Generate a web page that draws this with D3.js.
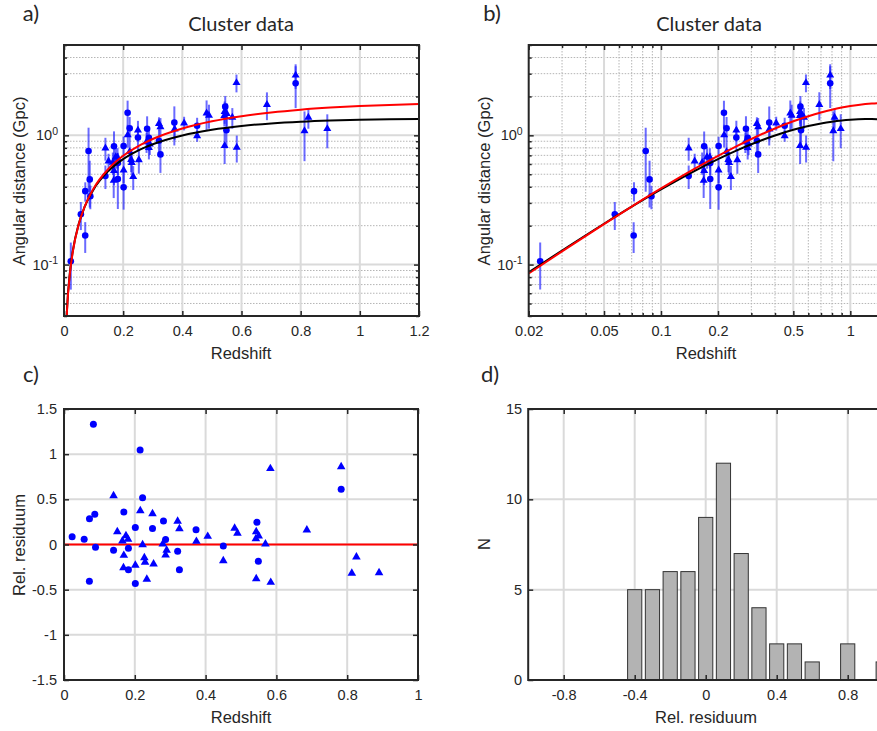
<!DOCTYPE html>
<html><head><meta charset="utf-8">
<script src="https://cdn.jsdelivr.net/npm/d3@7"></script>
<style>body{margin:0;background:#fff}svg{display:block}</style>
</head><body><svg id="chart" width="877" height="731"></svg>
<script>
// ---------- data ----------
const curveZ = [0.005,0.01,0.02,0.03,0.05,0.07,0.1,0.15,0.2,0.25,0.3,0.4,0.5,0.6,0.7,0.8,0.9,1.0,1.1,1.2,1.3,1.4,1.5];
const redCurve = [0.0217,0.0431,0.0853,0.1264,0.2056,0.2812,0.3880,0.5500,0.6942,0.8226,0.9371,1.1304,1.2843,1.4065,1.5033,1.5796,1.6390,1.6848,1.7194,1.7448,1.7625,1.7740,1.7804];
const blackCurve = [0.0224,0.0443,0.0871,0.1285,0.2070,0.2804,0.3816,0.5294,0.6549,0.7618,0.8530,0.9977,1.1035,1.1807,1.2365,1.2761,1.3033,1.3210,1.3313,1.3358,1.3358,1.3323,1.3261];

const circZ = [0.023,0.057,0.0717,0.072,0.083,0.087,0.089,0.14,0.169,0.182,0.182,0.2015,0.2015,0.215,0.222,0.25,0.281,0.287,0.321,0.326,0.373,0.45,0.545,0.549,0.783];
const circD = [0.106,0.245,0.168,0.370,0.756,0.456,0.338,0.484,0.823,0.612,0.459,0.396,0.827,1.495,1.135,0.962,1.123,0.955,0.907,0.712,1.255,1.187,1.667,1.094,2.524];
const circErr = [0.042,0.06,0.045,0.063,0.39,0.18,0.07,0.1,0.25,0.12,0.19,0.13,0.15,0.36,0.25,0.2,0.28,0.2,0.18,0.2,0.42,0.18,0.35,0.3,0.9];
const circRes = [0.087,0.057,-0.408,0.286,1.33,0.334,-0.031,-0.064,0.36,-0.042,-0.28,-0.432,0.188,1.046,0.518,0.177,0.26,0.054,-0.074,-0.279,0.164,-0.017,0.245,-0.186,0.611];

const triZ = [0.14,0.1506,0.165,0.175,0.181,0.169,0.168,0.2015,0.2155,0.222,0.227,0.229,0.234,0.25,0.253,0.279,0.287,0.29,0.321,0.326,0.374,0.406,0.45,0.482,0.49,0.543,0.542,0.55,0.569,0.543,0.583,0.584,0.686,0.783,0.826,0.813,0.89];
const triD = [0.797,0.630,0.616,0.682,0.676,0.532,0.447,0.537,1.005,0.746,0.649,0.614,0.478,1.094,0.645,0.891,0.801,0.854,1.229,1.160,1.118,1.242,0.991,1.482,1.426,1.527,1.421,1.472,1.375,0.830,2.550,0.806,1.730,2.915,1.375,1.081,1.124];
const triErr = [0.16,0.09,0.12,0.13,0.12,0.12,0.12,0.11,0.2,0.14,0.13,0.12,0.1,0.2,0.14,0.16,0.15,0.15,0.15,0.2,0.2,0.15,0.1,0.38,0.3,0.3,0.25,0.3,0.25,0.23,0.4,0.19,0.42,0.63,0.25,0.45,0.33];
const triRes = [0.54,0.142,0.039,0.097,0.057,-0.12,-0.257,-0.23,0.374,-0.002,-0.146,-0.197,-0.385,0.341,-0.216,0.006,-0.116,-0.064,0.257,0.175,0.035,0.09,-0.179,0.179,0.124,0.142,0.064,0.094,0.005,-0.379,0.84,-0.419,0.161,0.861,-0.138,-0.319,-0.312];

const histCenters = [-0.4,-0.3,-0.2,-0.1,0,0.1,0.2,0.3,0.4,0.5,0.6,0.7,0.8,0.9,1.0,1.1,1.2,1.3];
const histCounts = [5,5,6,6,9,12,7,4,2,2,1,0,2,0,1,0,0,1];

const xTicksA = [0,0.2,0.4,0.6,0.8,1,1.2];
const xTicksB = [0.02,0.05,0.1,0.2,0.5,1];
const yTicksLog = [0.1,1];
const xTicksC = [0,0.2,0.4,0.6,0.8,1];
const yTicksC = [-1.5,-1,-0.5,0,0.5,1,1.5];
const xTicksD = [-0.8,-0.4,0,0.4,0.8];
const yTicksD = [0,5,10,15];

// ---------- styling ----------
const FRAME = "#262626", GMAJ = "#dadada", GMIN = "#b5b5b5";
const TF = "'Liberation Sans', Arial, sans-serif";
const TT = "Lato, 'Open Sans', sans-serif";
const svg = d3.select("#chart");
const fmt = d => d3.format("~g")(d).replace("\u2212", "-");

const circles = circZ.map((z,i)=>({z, d:circD[i], e:circErr[i], r:circRes[i]}));
const tris = triZ.map((z,i)=>({z, d:triD[i], e:triErr[i], r:triRes[i]}));
const curveRed = curveZ.map((z,i)=>({z, d:redCurve[i]}));
const curveBlack = curveZ.map((z,i)=>({z, d:blackCurve[i]}));

const logMinorY = [0.04,0.05,0.06,0.07,0.08,0.09,0.2,0.3,0.4,0.5,0.6,0.7,0.8,0.9,2,3,4,5];
const logMinorXB = [0.03,0.04,0.06,0.07,0.08,0.09,0.3,0.4,0.6,0.7,0.8,0.9];

let clipId = 0;
function makePanel(x, y) {
  const [l, r] = x.range(), [b, t] = y.range();
  const g = svg.append("g");
  const id = "clip" + (clipId++);
  g.append("clipPath").attr("id", id).append("rect").attr("x", l).attr("y", t).attr("width", r - l).attr("height", b - t);
  return {g, l, r, t, b, clip: `url(#${id})`};
}
function grid(P, x, y, xs, ys, color, width, dash) {
  const gg = P.g.append("g").attr("stroke", color).attr("stroke-width", width).attr("clip-path", P.clip);
  if (dash) gg.attr("stroke-dasharray", dash);
  gg.selectAll(".gx").data(xs).join("line").attr("x1", d=>x(d)).attr("x2", d=>x(d)).attr("y1", P.t).attr("y2", P.b);
  gg.selectAll(".gy").data(ys).join("line").attr("y1", d=>y(d)).attr("y2", d=>y(d)).attr("x1", P.l).attr("x2", P.r);
}
function styleAxis(sel) {
  sel.attr("font-family", null).attr("font-size", null);
  sel.select(".domain").remove();
  sel.selectAll(".tick line").attr("stroke", FRAME).attr("stroke-width", 1.5);
  sel.selectAll(".tick text").attr("fill", FRAME).style("font-family", TF).style("font-size", "14.5px");
}
function axes(P, x, y, xt, yt, xfmt, yfmt, xMinor, yMinor, ypad) {
  const g = P.g;
  g.append("g").attr("transform", `translate(0,${P.b})`)
    .call(d3.axisBottom(x).tickValues(xt).tickFormat(xfmt).tickSizeInner(-5).tickSizeOuter(0).tickPadding(10)).call(styleAxis);
  g.append("g").attr("transform", `translate(0,${P.t})`)
    .call(d3.axisTop(x).tickValues(xt).tickFormat("").tickSizeInner(-5).tickSizeOuter(0)).call(styleAxis);
  const la = g.append("g").attr("transform", `translate(${P.l},0)`)
    .call(d3.axisLeft(y).tickValues(yt).tickFormat(yfmt).tickSizeInner(-5).tickSizeOuter(0).tickPadding(ypad)).call(styleAxis);
  g.append("g").attr("transform", `translate(${P.r},0)`)
    .call(d3.axisRight(y).tickValues(yt).tickFormat("").tickSizeInner(-5).tickSizeOuter(0)).call(styleAxis);
  if (xMinor) {
    g.append("g").attr("transform", `translate(0,${P.b})`).call(d3.axisBottom(x).tickValues(xMinor).tickFormat("").tickSizeInner(-3).tickSizeOuter(0)).call(styleAxis);
    g.append("g").attr("transform", `translate(0,${P.t})`).call(d3.axisTop(x).tickValues(xMinor).tickFormat("").tickSizeInner(-3).tickSizeOuter(0)).call(styleAxis);
  }
  if (yMinor) {
    g.append("g").attr("transform", `translate(${P.l},0)`).call(d3.axisLeft(y).tickValues(yMinor).tickFormat("").tickSizeInner(-3).tickSizeOuter(0)).call(styleAxis);
    g.append("g").attr("transform", `translate(${P.r},0)`).call(d3.axisRight(y).tickValues(yMinor).tickFormat("").tickSizeInner(-3).tickSizeOuter(0)).call(styleAxis);
  }
  g.append("rect").attr("x", P.l).attr("y", P.t).attr("width", P.r - P.l).attr("height", P.b - P.t)
    .attr("fill", "none").attr("stroke", FRAME).attr("stroke-width", 2);
  return la;
}
function powLabels(axisSel) {
  axisSel.selectAll(".tick text").each(function(d) {
    const t = d3.select(this); const e = Math.round(Math.log10(d));
    t.text(null);
    t.append("tspan").text("10");
    t.append("tspan").attr("dy", "-0.55em").style("font-size", "10.5px").text(String(e));
  });
}
function label(text, x, y, size, font, rot) {
  const t = svg.append("text").attr("x", x).attr("y", y).attr("text-anchor", "middle")
    .attr("fill", FRAME).style("font-family", font).style("font-size", size + "px").text(text);
  if (rot) t.attr("transform", `rotate(-90,${x},${y})`);
  return t;
}
function plotData(P, x, y) {
  const g = P.g.append("g").attr("clip-path", P.clip);
  const all = circles.concat(tris);
  g.selectAll(".eb").data(all).join("line")
    .attr("x1", d=>x(d.z)).attr("x2", d=>x(d.z))
    .attr("y1", d=>y(Math.max(d.d - d.e, 0.001))).attr("y2", d=>y(d.d + d.e))
    .attr("stroke", "#1a1aff").attr("stroke-opacity", 0.65).attr("stroke-width", 2);
  const line = d3.line().x(d=>x(d.z)).y(d=>y(d.d)).curve(d3.curveMonotoneX);
  g.selectAll(".cc").data(circles).join("circle").attr("cx", d=>x(d.z)).attr("cy", d=>y(d.d)).attr("r", 3.3).attr("fill", "#0000ff");
  g.selectAll(".tt").data(tris).join("path").attr("d", d3.symbol(d3.symbolTriangle, 28))
    .attr("transform", d=>`translate(${x(d.z)},${y(d.d)})`).attr("fill", "#0000ff");
  g.append("path").datum(curveBlack).attr("d", line).attr("fill", "none").attr("stroke", "#000").attr("stroke-width", 2);
  g.append("path").datum(curveRed).attr("d", line).attr("fill", "none").attr("stroke", "#ff0000").attr("stroke-width", 2);
}

// ---------- panel a ----------
{
  const x = d3.scaleLinear().domain([0, 1.2]).range([64, 419]);
  const y = d3.scaleLog().domain([0.04, 5]).range([316, 45]);
  const P = makePanel(x, y);
  grid(P, x, y, [], logMinorY, GMIN, 1, "1.5,1.5");
  grid(P, x, y, xTicksA.slice(1, -1), yTicksLog, GMAJ, 2);
  plotData(P, x, y);
  const la = axes(P, x, y, xTicksA, yTicksLog, fmt, d=>d, null, logMinorY, 6);
  powLabels(la);
  label("a)", 31, 21, 22, TT);
  label("Cluster data", 241, 31, 20, TT);
  label("Redshift", 241, 359, 16.5, TF);
  label("Angular distance (Gpc)", 25, 181, 16.5, TF, true);
}
// ---------- panel b ----------
{
  const x = d3.scaleLog().domain([0.02, 1.5]).range([528.7, 528.7 + 189.3 * Math.log10(75)]);
  const y = d3.scaleLog().domain([0.04, 5]).range([316, 45]);
  const P = makePanel(x, y);
  grid(P, x, y, logMinorXB, logMinorY, GMIN, 1, "1.5,1.5");
  grid(P, x, y, xTicksB.slice(1), yTicksLog, GMAJ, 2);
  plotData(P, x, y);
  const la = axes(P, x, y, xTicksB, yTicksLog, fmt, d=>d, logMinorXB, logMinorY, 6);
  powLabels(la);
  label("b)", 492, 21, 22, TT);
  label("Cluster data", 709, 31, 20, TT);
  label("Redshift", 706, 359, 16.5, TF);
  label("Angular distance (Gpc)", 490, 181, 16.5, TF, true);
}
// ---------- panel c ----------
{
  const x = d3.scaleLinear().domain([0, 1]).range([64, 418]);
  const y = d3.scaleLinear().domain([-1.5, 1.5]).range([680, 409]);
  const P = makePanel(x, y);
  grid(P, x, y, xTicksC.slice(1, -1), yTicksC.slice(1, -1), GMAJ, 2);
  const g = P.g.append("g").attr("clip-path", P.clip);
  g.append("line").attr("x1", P.l).attr("x2", P.r).attr("y1", y(0)).attr("y2", y(0)).attr("stroke", "#ff0000").attr("stroke-width", 2);
  g.selectAll(".cc").data(circles).join("circle").attr("cx", d=>x(d.z)).attr("cy", d=>y(d.r)).attr("r", 3.5).attr("fill", "#0000ff");
  g.selectAll(".tt").data(tris).join("path").attr("d", d3.symbol(d3.symbolTriangle, 32))
    .attr("transform", d=>`translate(${x(d.z)},${y(d.r)})`).attr("fill", "#0000ff");
  axes(P, x, y, xTicksC, yTicksC, fmt, fmt, null, null, 7);
  label("c)", 31, 382, 22, TT);
  label("Redshift", 241, 723, 16.5, TF);
  label("Rel. residuum", 25, 545, 16.5, TF, true);
}
// ---------- panel d ----------
{
  const x = d3.scaleLinear().domain([-1, 1]).range([528.2, 883.2]);
  const y = d3.scaleLinear().domain([0, 15]).range([680, 409]);
  const P = makePanel(x, y);
  grid(P, x, y, xTicksD, [5, 10], GMAJ, 2);
  const bins = histCenters.map((c,i)=>({c, n:histCounts[i]})).filter(d=>d.n > 0);
  P.g.append("g").attr("clip-path", P.clip).selectAll("rect").data(bins).join("rect")
    .attr("x", d=>x(d.c - 0.04)).attr("width", d=>x(d.c + 0.04) - x(d.c - 0.04))
    .attr("y", d=>y(d.n)).attr("height", d=>y(0) - y(d.n))
    .attr("fill", "#b3b3b3").attr("stroke", "#333").attr("stroke-width", 1);
  axes(P, x, y, xTicksD, yTicksD, fmt, fmt, null, null, 6);
  label("d)", 490, 382, 22, TT);
  label("Rel. residuum", 706, 723, 16.5, TF);
  label("N", 490, 544, 16.5, TF, true);
}
</script></body></html>
